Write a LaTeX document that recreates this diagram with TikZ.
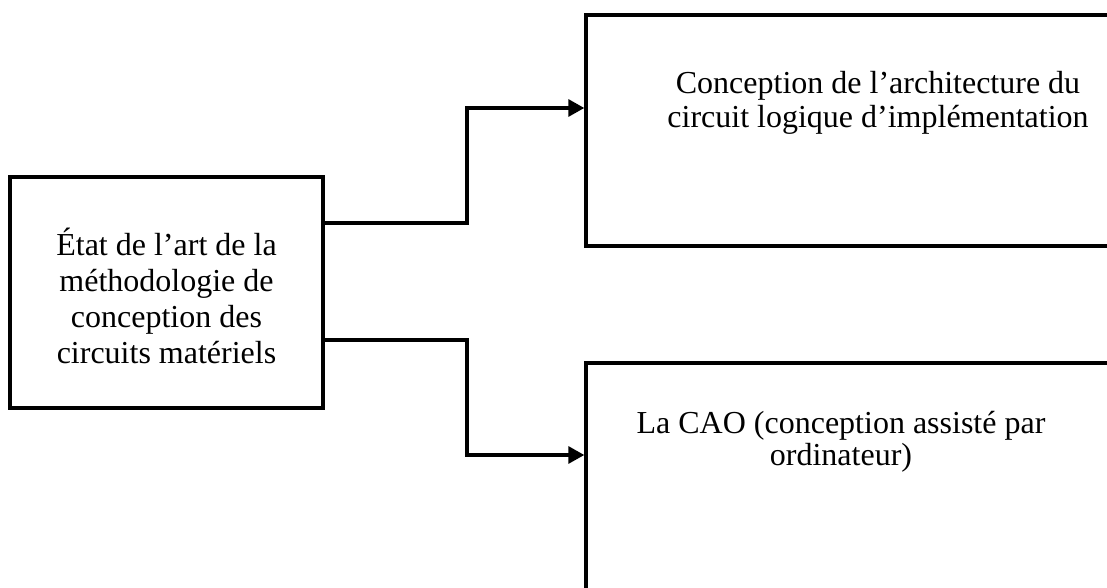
\documentclass[tikz,border=0pt]{standalone}
\usepackage{fontspec}
\setmainfont{Liberation Serif}
\usetikzlibrary{arrows.meta}
\begin{document}
\begin{tikzpicture}[x=1pt,y=-1pt,
  box/.style={draw=black,line width=3.4pt,minimum width=#1,inner sep=0pt},
  label/.style={align=center,inner sep=0pt,font=\fontsize{32}{34}\selectfont},
  link/.style={draw=black,line width=3.2pt,-{Triangle[length=16pt,width=17pt]}}]
\useasboundingbox (0,0) rectangle (1107,588);
\clip (0,0) rectangle (1107,588);
% source box
\node[box=313pt,minimum height=231pt] (src) at (166.5,292.5) {};
\node[label,font=\fontsize{32}{36}\selectfont] (srctext) at (166.5,296)
  {État de l’art de la\\méthodologie de\\conception des\\circuits matériels};
% target boxes (their right side runs off the page)
\node[box=534pt,minimum height=231pt] (arch) at (853,130.5) {};
\node[label] (archtext) at (878,103)
  {Conception de l’architecture du\\circuit logique d’implémentation};
\node[box=534pt,minimum height=260pt] (cao) at (853,493) {};
\node[label,font=\fontsize{32}{32}\selectfont] (caotext) at (841,442)
  {La CAO (conception assisté par\\ordinateur)};
% elbow connectors
\coordinate (split) at (467,0);
\draw[link] (src.east |- 0,223) -- (split |- 0,223) |- (arch.west |- 0,108);
\draw[link] (src.east |- 0,340) -- (split |- 0,340) |- (cao.west |- 0,455);
\end{tikzpicture}
\end{document}
